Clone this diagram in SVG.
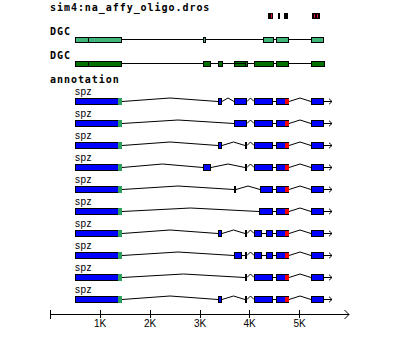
<svg xmlns="http://www.w3.org/2000/svg" width="400" height="361" viewBox="0 0 400 361">
<style>
.bg{fill:#fff}
.hd{font-family:"DejaVu Sans Mono","Liberation Mono",monospace;font-weight:bold;font-size:10px;letter-spacing:0.95px;fill:#000}
.lb{font-family:"Liberation Sans",Arial,sans-serif;font-size:10px;letter-spacing:0.5px;fill:#000}
.ax{font-family:"Liberation Sans",Arial,sans-serif;font-size:10px;fill:#000;text-anchor:middle}
.ex{fill:#0000ff;stroke:#000;stroke-width:1;shape-rendering:crispEdges}
.utr{fill:#2e9e5e;shape-rendering:crispEdges}
.red{fill:#ff0000;shape-rendering:crispEdges}
.d1{fill:#40b57a;stroke:#000;stroke-width:1;shape-rendering:crispEdges}
.d2{fill:#007000;stroke:#000;stroke-width:1;shape-rendering:crispEdges}
.ln{fill:none;stroke:#000;stroke-width:1;shape-rendering:crispEdges}
.in{fill:none;stroke:#000;stroke-width:1}
.mk{fill:#000;shape-rendering:crispEdges}
.mr{stroke:#e0103a;stroke-width:1;shape-rendering:crispEdges}
</style>
<defs>
<marker id="arr" markerUnits="userSpaceOnUse" markerWidth="6" markerHeight="8" refX="4" refY="4" orient="auto" viewBox="0 0 6 8">
<path d="M1,1.2 L4,4 L1,6.8" fill="none" stroke="#000" stroke-width="1"/>
</marker>
</defs>
<rect class="bg" x="0" y="0" width="400" height="361"/>

<g id="sim4-track">
<text class="hd" x="50" y="10.5">sim4:na_affy_oligo.dros</text>
<rect class="mk" x="268" y="13" width="5" height="6"/>
<line class="mr" x1="271.5" y1="14" x2="271.5" y2="18"/>
<rect class="mk" x="278" y="13" width="2" height="6"/>
<rect class="mk" x="284" y="13" width="3.5" height="6"/>
<rect class="mk" x="312" y="13" width="8" height="6"/>
<line class="mr" x1="314.5" y1="14" x2="314.5" y2="18"/>
<line class="mr" x1="317.5" y1="14" x2="317.5" y2="18"/>
</g>

<g id="dgc-1">
<text class="hd" x="50" y="35">DGC</text>
<line class="ln" x1="122" y1="39.5" x2="311" y2="39.5"/>
<rect class="d1" x="75.5" y="37.5" width="46" height="5"/>
<line class="ln" x1="88.5" y1="37.5" x2="88.5" y2="42.5"/>
<rect class="d1" x="203.5" y="37.5" width="2" height="5"/>
<rect class="d1" x="263.5" y="37.5" width="10" height="5"/>
<rect class="d1" x="276.5" y="37.5" width="12" height="5"/>
<rect class="d1" x="311.5" y="37.5" width="12" height="5"/>
</g>

<g id="dgc-2">
<text class="hd" x="50" y="58.5">DGC</text>
<line class="ln" x1="122" y1="63.5" x2="311" y2="63.5"/>
<rect class="d2" x="75.5" y="61.5" width="46" height="5"/>
<line class="ln" x1="88.5" y1="61.5" x2="88.5" y2="66.5"/>
<rect class="d2" x="203.5" y="61.5" width="7" height="5"/>
<rect class="d2" x="218.5" y="61.5" width="4" height="5"/>
<rect class="d2" x="234.5" y="61.5" width="13" height="5"/>
<line class="ln" x1="245.5" y1="61.5" x2="245.5" y2="66.5"/>
<line class="ln" x1="234" y1="63.5" x2="246" y2="63.5"/>
<rect class="d2" x="254.5" y="61.5" width="19" height="5"/>
<rect class="d2" x="276.5" y="61.5" width="12" height="5"/>
<rect class="d2" x="311.5" y="61.5" width="13" height="5"/>
</g>

<g id="annotation-header">
<text class="hd" x="50" y="83">annotation</text>
</g>

<g id="connectors">
<polyline class="in" marker-end="url(#arr)" points="122,101.5 170,98 218,101.5 222,101.5 228,98 234,101.5 247,101.5 250.5,98 254,101.5 289,101.5 300,98 311,101.5 332,101.5"/>
<polyline class="in" marker-end="url(#arr)" points="122,123.5 178,120 234,123.5 247,123.5 250.5,120 254,123.5 289,123.5 300,120 311,123.5 332,123.5"/>
<polyline class="in" marker-end="url(#arr)" points="122,145.5 170,142 218,145.5 222,145.5 233.5,142 245,145.5 247,145.5 250.5,142 254,145.5 289,145.5 300,142 311,145.5 332,145.5"/>
<polyline class="in" marker-end="url(#arr)" points="122,167.5 162.5,164 203,167.5 211,167.5 228,164 245,167.5 247,167.5 250.5,164 254,167.5 289,167.5 300,164 311,167.5 332,167.5"/>
<polyline class="in" marker-end="url(#arr)" points="122,189.5 178,186 234,189.5 236,189.5 248,186 260,189.5 289,189.5 300,186 311,189.5 332,189.5"/>
<polyline class="in" marker-end="url(#arr)" points="122,211.5 190.5,208 259,211.5 289,211.5 300,208 311,211.5 332,211.5"/>
<polyline class="in" marker-end="url(#arr)" points="122,233.5 170,230 218,233.5 222,233.5 233.5,230 245,233.5 247,233.5 250.5,230 254,233.5 289,233.5 300,230 311,233.5 332,233.5"/>
<polyline class="in" marker-end="url(#arr)" points="122,255.5 178,252 234,255.5 247,255.5 250.5,252 254,255.5 289,255.5 300,252 311,255.5 332,255.5"/>
<polyline class="in" marker-end="url(#arr)" points="122,277.5 183.5,274 245,277.5 247,277.5 250.5,274 254,277.5 289,277.5 300,274 311,277.5 332,277.5"/>
<polyline class="in" marker-end="url(#arr)" points="122,299.5 170,296 218,299.5 222,299.5 233.5,296 245,299.5 247,299.5 250.5,296 254,299.5 289,299.5 300,296 311,299.5 332,299.5"/>
</g>

<g id="spz-1">
<text class="lb" x="75" y="95">spz</text>
<rect class="ex" x="75.5" y="98.5" width="46" height="6"/><rect class="utr" x="118" y="98" width="4" height="7"/>
<rect class="ex" x="218.5" y="98.5" width="3" height="6"/>
<rect class="ex" x="234.5" y="98.5" width="12" height="6"/>
<rect class="ex" x="254.5" y="98.5" width="18" height="6"/>
<rect class="ex" x="276.5" y="98.5" width="12" height="6"/><rect class="red" x="285" y="99" width="3.5" height="5"/>
<rect class="ex" x="311.5" y="98.5" width="12" height="6"/>
</g>

<g id="spz-2">
<text class="lb" x="75" y="117">spz</text>
<rect class="ex" x="75.5" y="120.5" width="46" height="6"/><rect class="utr" x="118" y="120" width="4" height="7"/>
<rect class="ex" x="234.5" y="120.5" width="12" height="6"/>
<rect class="ex" x="254.5" y="120.5" width="18" height="6"/>
<rect class="ex" x="276.5" y="120.5" width="12" height="6"/><rect class="red" x="285" y="121" width="3.5" height="5"/>
<rect class="ex" x="311.5" y="120.5" width="12" height="6"/>
</g>

<g id="spz-3">
<text class="lb" x="75" y="139">spz</text>
<rect class="ex" x="75.5" y="142.5" width="46" height="6"/><rect class="utr" x="118" y="142" width="4" height="7"/>
<rect class="ex" x="218.5" y="142.5" width="3" height="6"/>
<rect class="ex" x="245.5" y="142.5" width="1" height="6"/>
<rect class="ex" x="254.5" y="142.5" width="18" height="6"/>
<rect class="ex" x="276.5" y="142.5" width="12" height="6"/><rect class="red" x="285" y="143" width="3.5" height="5"/>
<rect class="ex" x="311.5" y="142.5" width="12" height="6"/>
</g>

<g id="spz-4">
<text class="lb" x="75" y="161">spz</text>
<rect class="ex" x="75.5" y="164.5" width="46" height="6"/><rect class="utr" x="118" y="164" width="4" height="7"/>
<rect class="ex" x="203.5" y="164.5" width="7" height="6"/>
<rect class="ex" x="245.5" y="164.5" width="1" height="6"/>
<rect class="ex" x="254.5" y="164.5" width="18" height="6"/>
<rect class="ex" x="276.5" y="164.5" width="12" height="6"/><rect class="red" x="285" y="165" width="3.5" height="5"/>
<rect class="ex" x="311.5" y="164.5" width="12" height="6"/>
</g>

<g id="spz-5">
<text class="lb" x="75" y="183">spz</text>
<rect class="ex" x="75.5" y="186.5" width="46" height="6"/><rect class="utr" x="118" y="186" width="4" height="7"/>
<rect class="ex" x="234.5" y="186.5" width="1" height="6"/>
<rect class="ex" x="260.5" y="186.5" width="12" height="6"/>
<rect class="ex" x="276.5" y="186.5" width="12" height="6"/><rect class="red" x="285" y="187" width="3.5" height="5"/>
<rect class="ex" x="311.5" y="186.5" width="12" height="6"/>
</g>

<g id="spz-6">
<text class="lb" x="75" y="205">spz</text>
<rect class="ex" x="75.5" y="208.5" width="46" height="6"/><rect class="utr" x="118" y="208" width="4" height="7"/>
<rect class="ex" x="259.5" y="208.5" width="13" height="6"/>
<rect class="ex" x="276.5" y="208.5" width="12" height="6"/><rect class="red" x="285" y="209" width="3.5" height="5"/>
<rect class="ex" x="311.5" y="208.5" width="12" height="6"/>
</g>

<g id="spz-7">
<text class="lb" x="75" y="227">spz</text>
<rect class="ex" x="75.5" y="230.5" width="46" height="6"/><rect class="utr" x="118" y="230" width="4" height="7"/>
<rect class="ex" x="218.5" y="230.5" width="3" height="6"/>
<rect class="ex" x="245.5" y="230.5" width="1" height="6"/>
<rect class="ex" x="254.5" y="230.5" width="7" height="6"/>
<rect class="ex" x="266.5" y="230.5" width="6" height="6"/>
<rect class="ex" x="276.5" y="230.5" width="12" height="6"/><rect class="red" x="285" y="231" width="3.5" height="5"/>
<rect class="ex" x="311.5" y="230.5" width="12" height="6"/>
</g>

<g id="spz-8">
<text class="lb" x="75" y="249">spz</text>
<rect class="ex" x="75.5" y="252.5" width="46" height="6"/><rect class="utr" x="118" y="252" width="4" height="7"/>
<rect class="ex" x="234.5" y="252.5" width="7" height="6"/>
<rect class="ex" x="245.5" y="252.5" width="1" height="6"/>
<rect class="ex" x="254.5" y="252.5" width="7" height="6"/>
<rect class="ex" x="266.5" y="252.5" width="6" height="6"/>
<rect class="ex" x="276.5" y="252.5" width="12" height="6"/><rect class="red" x="285" y="253" width="3.5" height="5"/>
<rect class="ex" x="311.5" y="252.5" width="12" height="6"/>
</g>

<g id="spz-9">
<text class="lb" x="75" y="271">spz</text>
<rect class="ex" x="75.5" y="274.5" width="46" height="6"/><rect class="utr" x="118" y="274" width="4" height="7"/>
<rect class="ex" x="245.5" y="274.5" width="1" height="6"/>
<rect class="ex" x="254.5" y="274.5" width="18" height="6"/>
<rect class="ex" x="276.5" y="274.5" width="12" height="6"/><rect class="red" x="285" y="275" width="3.5" height="5"/>
<rect class="ex" x="311.5" y="274.5" width="12" height="6"/>
</g>

<g id="spz-10">
<text class="lb" x="75" y="293">spz</text>
<rect class="ex" x="75.5" y="296.5" width="46" height="6"/><rect class="utr" x="118" y="296" width="4" height="7"/>
<rect class="ex" x="218.5" y="296.5" width="3" height="6"/>
<rect class="ex" x="245.5" y="296.5" width="1" height="6"/>
<rect class="ex" x="254.5" y="296.5" width="18" height="6"/>
<rect class="ex" x="276.5" y="296.5" width="12" height="6"/><rect class="red" x="285" y="297" width="3.5" height="5"/>
<rect class="ex" x="311.5" y="296.5" width="12" height="6"/>
</g>

<g id="axis">
<line class="ln" x1="50" y1="314.5" x2="349" y2="314.5"/>
<polyline class="in" points="344.5,310 349,314.5 344.5,319"/>
<line class="ln" x1="50.5" y1="310" x2="50.5" y2="319"/>
<line class="ln" x1="100.5" y1="310" x2="100.5" y2="318"/>
<line class="ln" x1="150.5" y1="310" x2="150.5" y2="318"/>
<line class="ln" x1="200.5" y1="310" x2="200.5" y2="318"/>
<line class="ln" x1="249.5" y1="310" x2="249.5" y2="318"/>
<line class="ln" x1="299.5" y1="310" x2="299.5" y2="318"/>
<text class="ax" x="100" y="327">1K</text>
<text class="ax" x="150" y="327">2K</text>
<text class="ax" x="200" y="327">3K</text>
<text class="ax" x="249.5" y="327">4K</text>
<text class="ax" x="299.5" y="327">5K</text>
</g>
</svg>
